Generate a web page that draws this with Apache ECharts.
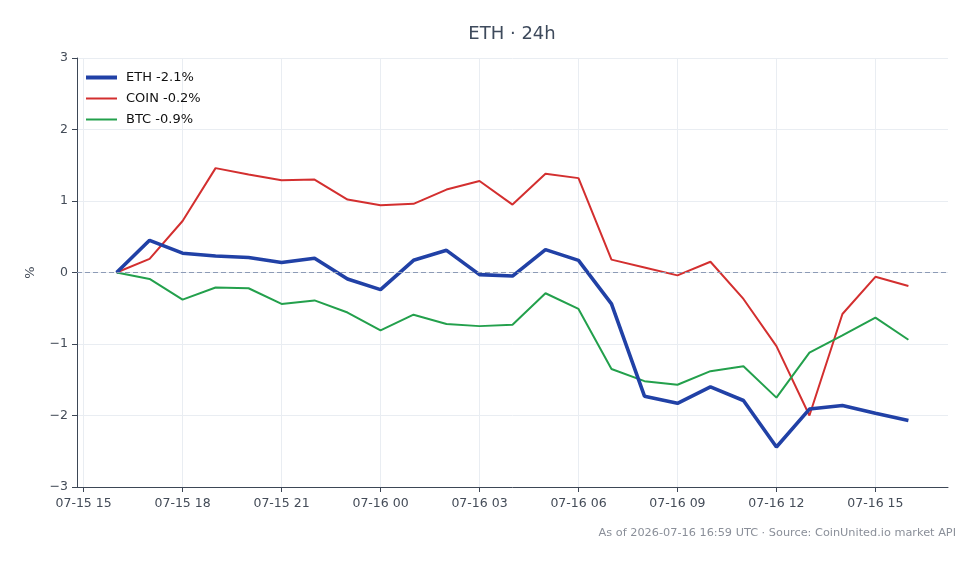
<!DOCTYPE html>
<html>
<head>
<meta charset="utf-8">
<script src="https://cdn.jsdelivr.net/npm/echarts@6/dist/echarts.min.js"></script>
<style>
  html, body { margin: 0; padding: 0; background: #fff; }
  #chart { width: 980px; height: 564px; }
</style>
</head>
<body>
<div id="chart"></div>
<script>
// hourly points, 07-15 16:00 -> 07-16 16:00
const times = [
  "2026-07-15 16:00", "2026-07-15 17:00", "2026-07-15 18:00", "2026-07-15 19:00",
  "2026-07-15 20:00", "2026-07-15 21:00", "2026-07-15 22:00", "2026-07-15 23:00",
  "2026-07-16 00:00", "2026-07-16 01:00", "2026-07-16 02:00", "2026-07-16 03:00",
  "2026-07-16 04:00", "2026-07-16 05:00", "2026-07-16 06:00", "2026-07-16 07:00",
  "2026-07-16 08:00", "2026-07-16 09:00", "2026-07-16 10:00", "2026-07-16 11:00",
  "2026-07-16 12:00", "2026-07-16 13:00", "2026-07-16 14:00", "2026-07-16 15:00",
  "2026-07-16 16:00"
];
const eth = [0, 0.45, 0.27, 0.23, 0.21, 0.14, 0.20, -0.09, -0.24, 0.17, 0.31, -0.03,
  -0.05, 0.32, 0.17, -0.44, -1.73, -1.83, -1.60, -1.79, -2.44, -1.91, -1.86, -1.97, -2.07];
const coin = [0, 0.19, 0.72, 1.46, 1.37, 1.29, 1.30, 1.02, 0.94, 0.96, 1.16, 1.28,
  0.95, 1.38, 1.32, 0.18, 0.07, -0.04, 0.15, -0.37, -1.03, -2.0, -0.58, -0.06, -0.19];
const btc = [0, -0.09, -0.38, -0.21, -0.22, -0.44, -0.39, -0.56, -0.81, -0.59, -0.72, -0.75,
  -0.73, -0.29, -0.51, -1.35, -1.52, -1.57, -1.38, -1.31, -1.75, -1.12, -0.88, -0.63, -0.94];
const tickTimes = [
  "2026-07-15 15:00", "2026-07-15 18:00", "2026-07-15 21:00", "2026-07-16 00:00",
  "2026-07-16 03:00", "2026-07-16 06:00", "2026-07-16 09:00", "2026-07-16 12:00",
  "2026-07-16 15:00"
];
const seriesNames = ["ETH -2.1%", "COIN -0.2%", "BTC -0.9%"];
const footer = "As of 2026-07-16 16:59 UTC · Source: CoinUnited.io market API";

// x positions are hours since 07-15 00:00
const base = new Date("2026-07-15T00:00").getTime();
const toHours = (s) => (new Date(s.replace(" ", "T")).getTime() - base) / 3600000;
const xs = times.map(toHours);
const tickXs = tickTimes.map(toHours);
const labelFor = (v) => {
  const i = tickXs.indexOf(v);
  return i < 0 ? "" : tickTimes[i].slice(5, 13);
};
const pairs = (arr) => arr.map((v, i) => [xs[i], v]);
const margin = (xs[xs.length - 1] - xs[0]) * 0.05;

const chart = echarts.init(document.getElementById("chart"));
const font = "DejaVu Sans";

// one legend per entry so each icon can have its own thickness
const legendEntry = (name, top, h) => ({
  data: [name],
  left: 81,
  top: top,
  icon: "rect",
  itemWidth: 31,
  itemHeight: h,
  textStyle: { fontSize: 13, color: "#111", padding: [0, 0, 0, 4], fontFamily: font },
});

chart.setOption({
  animation: false,
  textStyle: { fontFamily: font },
  title: {
    text: "ETH · 24h",
    left: 507,
    textAlign: "center",
    top: 20,
    textStyle: { fontSize: 18, fontWeight: "normal", color: "#3e4a5c", fontFamily: font },
  },
  grid: { left: 77, right: 32, top: 58, bottom: 77 },
  legend: [
    legendEntry(seriesNames[0], 66, 4),
    legendEntry(seriesNames[1], 87, 2),
    legendEntry(seriesNames[2], 108, 2),
  ],
  xAxis: {
    type: "value",
    min: xs[0] - margin,
    max: xs[xs.length - 1] + margin,
    axisLine: { show: true, onZero: false, lineStyle: { color: "#3d4756", width: 1 } },
    axisTick: { show: true, length: 5, lineStyle: { color: "#3d4756" }, customValues: tickXs },
    axisLabel: {
      customValues: tickXs,
      color: "#444c58",
      fontSize: 12.5,
      margin: 10,
      formatter: labelFor,
    },
    splitLine: { show: true, lineStyle: { color: "#e9edf2", width: 1 } },
  },
  yAxis: {
    type: "value",
    min: -3,
    max: 3,
    interval: 1,
    name: "%",
    nameLocation: "middle",
    nameGap: 40,
    nameRotate: 90,
    nameTextStyle: { fontSize: 13, color: "#444c58" },
    axisLine: { show: true, onZero: false, lineStyle: { color: "#3d4756", width: 1 } },
    axisTick: { show: true, length: 5, lineStyle: { color: "#3d4756" } },
    axisLabel: {
      color: "#444c58",
      fontSize: 12.5,
      margin: 9,
      formatter: (v) => (v < 0 ? "\u2212" + Math.abs(v) : String(v)),
    },
    splitLine: { show: true, lineStyle: { color: "#e9edf2", width: 1 } },
  },
  graphic: [
    {
      type: "text",
      right: 24,
      top: 528,
      style: { text: footer, fontSize: 11.3, fill: "#8a8f99", fontFamily: font },
    },
  ],
  series: [
    {
      name: seriesNames[1],
      type: "line",
      data: pairs(coin),
      showSymbol: false,
      symbol: "none",
      z: 3,
      lineStyle: { color: "#d32f2f", width: 2 },
      itemStyle: { color: "#d32f2f" },
      markLine: {
        silent: true,
        symbol: "none",
        label: { show: false },
        lineStyle: { color: "#8d9bb6", type: [5, 3], width: 1 },
        data: [{ yAxis: 0 }],
      },
    },
    {
      name: seriesNames[2],
      type: "line",
      data: pairs(btc),
      showSymbol: false,
      symbol: "none",
      z: 3,
      lineStyle: { color: "#23a04c", width: 2 },
      itemStyle: { color: "#23a04c" },
    },
    {
      name: seriesNames[0],
      type: "line",
      data: pairs(eth),
      showSymbol: false,
      symbol: "none",
      z: 4,
      lineStyle: { color: "#2141a6", width: 3.6 },
      itemStyle: { color: "#2141a6" },
    },
  ],
});
</script>
</body>
</html>
